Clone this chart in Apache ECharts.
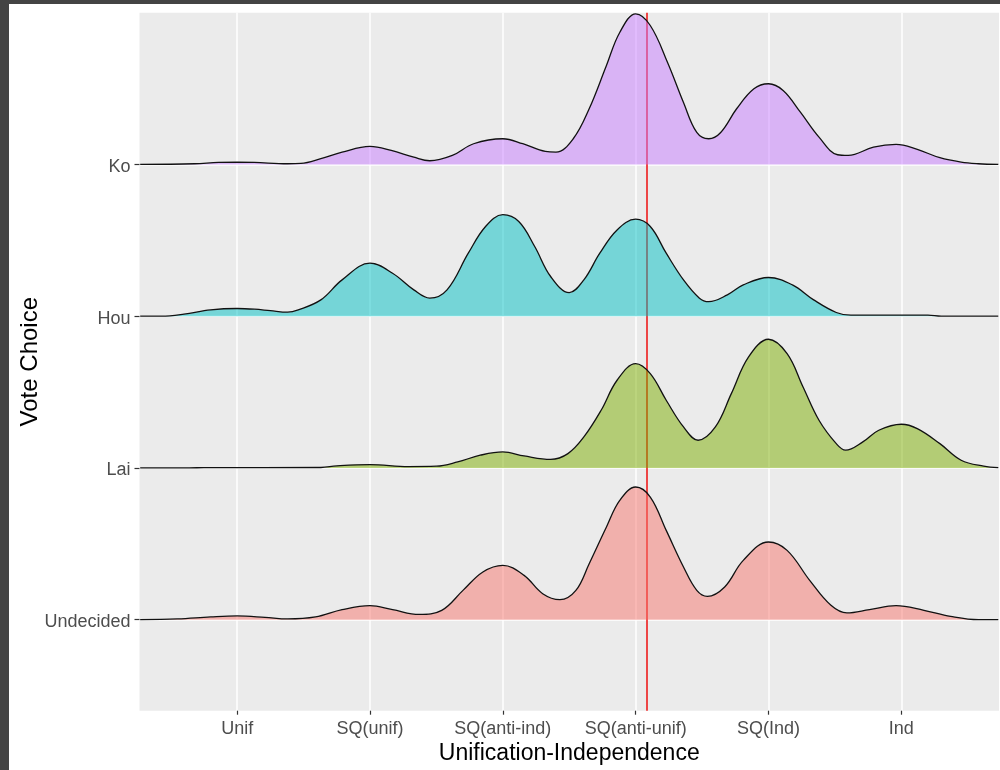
<!DOCTYPE html>
<html><head><meta charset="utf-8">
<script src="https://cdn.jsdelivr.net/npm/echarts@6/dist/echarts.min.js"></script>
<style>
html,body{margin:0;padding:0;background:#fff;overflow:hidden;}
#chart{position:absolute;left:0;top:0;width:1000px;height:770px;}
.frameL{position:absolute;left:0;top:0;width:9px;height:770px;background:#444;}
.frameT{position:absolute;left:0;top:0;width:1000px;height:4px;background:#444;}
</style></head><body>
<div id="chart"></div><div class="frameL"></div><div class="frameT"></div>
<script>
// Ridge categories, bottom to top
const ridgeNames = ['Undecided', 'Lai', 'Hou', 'Ko'];
// x-axis tick labels at positions 1..6
const tickLabels = ['Unif', 'SQ(unif)', 'SQ(anti-ind)', 'SQ(anti-unif)', 'SQ(Ind)', 'Ind'];
const tickPositions = [1, 2, 3, 4, 5, 6];
const ridgePositions = [1, 2, 3, 4];

// density curves: x positions and ridge heights (relative density units)
const undecidedX = [0.27, 0.55, 0.8, 1.0, 1.21, 1.38, 1.59, 1.79, 2.0, 2.17, 2.37, 2.54, 2.7, 2.85,
  3.0, 3.16, 3.3, 3.43, 3.55, 3.65, 3.78, 3.88, 4.0, 4.11, 4.23, 4.36, 4.46, 4.54, 4.67, 4.81,
  5.0, 5.14, 5.31, 5.47, 5.59, 5.76, 5.96, 6.17, 6.37, 6.58, 6.73];
const undecidedH = [0, 0.7, 2.7, 3.7, 2.3, 0.7, 2.7, 10, 14, 10, 5.3, 9.3, 29.3, 47.7,
  54.3, 44.3, 26, 20, 29.3, 56, 92.7, 119.3, 132.7, 122.7, 89.3, 52.7, 29.3, 23.3, 32.7, 59.3,
  77.7, 69.3, 39.3, 14.3, 6.7, 10, 14, 9.3, 3.3, 0, 0];

const laiX = [0.27, 0.64, 0.75, 1.63, 1.75, 2.0, 2.29, 2.5, 2.66, 2.83, 3.0, 3.16, 3.36, 3.49,
  3.61, 3.74, 3.86, 4.0, 4.11, 4.23, 4.36, 4.47, 4.6, 4.72, 4.85, 5.0, 5.14, 5.26, 5.38, 5.51,
  5.58, 5.71, 5.83, 6.0, 6.12, 6.29, 6.45, 6.62, 6.73];
const laiH = [0, 0, 0.3, 0.4, 2, 3.3, 1.3, 1.7, 6, 12.7, 16, 12, 8.5, 14.3,
  31, 57.7, 87.7, 104.3, 94.3, 67.7, 41, 27.7, 41, 74.3, 111, 128.7, 114.3, 81, 47.7, 24.3,
  17.7, 26, 37.7, 43.7, 39.3, 24.3, 7.7, 1.7, 0.3];

const houX = [0.27, 0.43, 0.6, 0.8, 1.0, 1.13, 1.25, 1.38, 1.46, 1.63, 1.79, 2.0, 2.17, 2.33,
  2.45, 2.58, 2.74, 2.87, 3.0, 3.12, 3.24, 3.36, 3.5, 3.61, 3.73, 3.86, 4.0, 4.11, 4.23, 4.36,
  4.48, 4.55, 4.69, 4.81, 5.0, 5.18, 5.34, 5.51, 5.62, 6.2, 6.3, 6.73];
const houH = [0, 0, 2, 6.3, 7.7, 7, 5.5, 4, 6.3, 16.3, 36.3, 53, 43, 26.3,
  18, 26.3, 63, 89.7, 101.5, 94.7, 69.7, 39.7, 23.5, 36.3, 63, 86.3, 97, 89.7, 63, 36.3,
  18, 14.5, 21.3, 31.3, 38.7, 31.3, 16.3, 3.7, 1, 1, 0, 0];

const koX = [0.27, 0.68, 0.86, 1.0, 1.13, 1.38, 1.48, 1.63, 1.79, 2.0, 2.16, 2.33, 2.45, 2.62,
  2.78, 3.0, 3.15, 3.32, 3.40, 3.53, 3.65, 3.78, 3.88, 4.0, 4.11, 4.24, 4.36, 4.46, 4.55, 4.64,
  4.76, 4.89, 5.0, 5.11, 5.24, 5.38, 5.52, 5.60, 5.79, 5.96, 6.12, 6.29, 6.45, 6.58, 6.73];
const koH = [0, 0.7, 2, 2.2, 2, 0.7, 1, 5.7, 12.3, 18, 14, 7.3, 3.7, 9,
  20.7, 25.7, 20.7, 13, 12.3, 25.7, 55.7, 99, 132, 150.7, 139, 102, 62, 32, 25.7, 32,
  55.7, 75.7, 80.7, 74, 52.3, 27.3, 9.7, 9, 17.3, 20, 15, 6.7, 2.3, 0.7, 0];

// reference value (vertical red line)
const refLine = 4.08;

const ridgeXs = [undecidedX, laiX, houX, koX];
const ridgeHs = [undecidedH, laiH, houH, koH];
const ridgeColors = ['#F8766D', '#7CAE00', '#00BFC4', '#C77CFF'];
const ridgeScale = 1 / 151.8; // density units -> row units

const FONT = '"Liberation Sans", Arial, sans-serif';
const chart = echarts.init(document.getElementById('chart'), null, {renderer: 'canvas'});

const series = ridgeNames.map((name, i) => ({
  name: name,
  type: 'line',
  smooth: 0.38,
  symbol: 'none',
  clip: true,
  z: 10 - i,
  silent: true,
  data: ridgeXs[i].map((x, j) => [x, ridgePositions[i] + ridgeHs[i][j] * ridgeScale]),
  lineStyle: {color: '#111', width: 1.3},
  areaStyle: {color: ridgeColors[i], opacity: 0.5, origin: ridgePositions[i]}
}));
series.push({
  type: 'line', data: [], z: 20, silent: true,
  markLine: {
    silent: true, symbol: 'none', animation: false,
    label: {show: false},
    lineStyle: {color: '#EE1C1C', width: 1.6, type: 'solid'},
    data: [{xAxis: refLine}]
  }
});

chart.setOption({
  animation: false,
  backgroundColor: '#fff',
  grid: {left: 139.5, right: 1, top: 12.7, bottom: 59.3, show: true, backgroundColor: '#EBEBEB', borderWidth: 0, outerBoundsMode: 'none', containLabel: false},
  xAxis: {
    type: 'value', min: 0.265, max: 6.735,
    axisLine: {show: false},
    axisTick: {show: true, customValues: tickPositions, length: 4, lineStyle: {color: '#333', width: 1.2}},
    axisLabel: {customValues: tickPositions, formatter: v => tickLabels[Math.round(v) - 1], fontSize: 18, color: '#4D4D4D', margin: 9.5, fontFamily: FONT},
    splitLine: {show: true, lineStyle: {color: '#fff', width: 1.5}},
    name: 'Unification-Independence', nameLocation: 'middle', nameGap: 31, nameMoveOverlap: false,
    nameTextStyle: {fontSize: 23, color: '#000', fontFamily: FONT}
  },
  yAxis: {
    type: 'value', min: 0.4, max: 5.0,
    axisLine: {show: false},
    axisTick: {show: true, customValues: ridgePositions, length: 5, lineStyle: {color: '#333', width: 1.2}},
    axisLabel: {customValues: ridgePositions, formatter: v => ridgeNames[Math.round(v) - 1], fontSize: 18, color: '#4D4D4D', margin: 9, fontFamily: FONT, verticalAlign: 'top', lineHeight: 5},
    splitLine: {show: true, lineStyle: {color: '#fff', width: 1.5}},
    name: 'Vote Choice', nameLocation: 'middle', nameGap: 97, nameRotate: 90, nameMoveOverlap: false,
    nameTextStyle: {fontSize: 24, color: '#000', fontFamily: FONT}
  },
  series: series
});
</script>
</body></html>
